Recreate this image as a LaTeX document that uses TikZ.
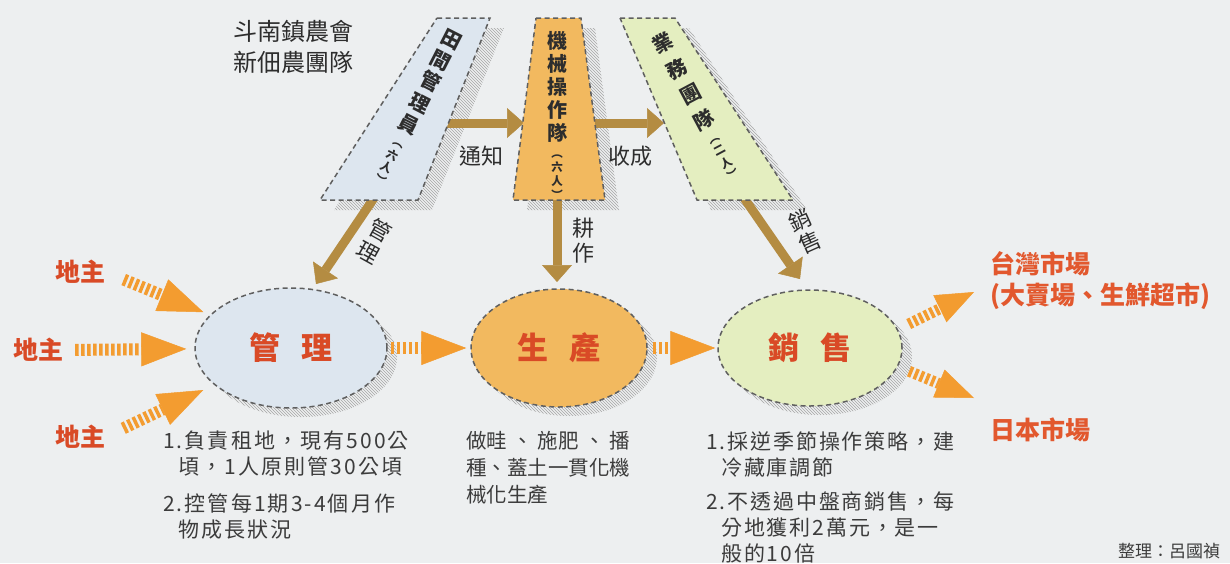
\documentclass[tikz,border=0pt]{standalone}
\usepackage{fontspec}
\setmainfont{Noto Sans CJK TC}
\usetikzlibrary{arrows.meta,shapes.geometric,patterns}
\definecolor{bgc}{RGB}{237,239,240}
\definecolor{bluef}{RGB}{221,230,239}
\definecolor{orangef}{RGB}{242,185,95}
\definecolor{greenf}{RGB}{228,238,192}
\definecolor{brownc}{RGB}{180,140,66}
\definecolor{orangec}{RGB}{243,156,48}
\definecolor{redc}{RGB}{217,74,38}
\definecolor{mktc}{RGB}{226,88,46}
\definecolor{darkc}{RGB}{45,45,45}
\definecolor{notec}{RGB}{60,60,60}
\definecolor{dashc}{RGB}{95,95,95}
\newcommand\smc[1]{{\fontsize{11.5}{11.5}\selectfont #1}}
\tikzset{
  shapedashed/.style={draw=dashc, line width=1.5pt, dash pattern=on 5pt off 3.5pt},
  shadowfill/.style={pattern=north west lines, pattern color=gray!70},
  barrow/.style={draw=brownc, line width=9pt, -{Triangle[length=17pt,width=30pt,line width=0.5pt]}},
  oarrow/.style={draw=orangec, line width=12pt, dash pattern=on 3.5pt off 2.5pt, -{Triangle[length=45pt,width=34pt,line width=0.5pt]}},
  osmall/.style={draw=orangec, line width=11pt, dash pattern=on 3.5pt off 2.5pt, -{Triangle[length=38pt,width=30pt,line width=0.5pt]}},
  stage/.style={ellipse, inner sep=0pt, shapedashed, text=redc, font=\bfseries\fontsize{31}{31}\selectfont},
  owner/.style={inner sep=0pt, text=redc, font=\bfseries\fontsize{25}{25}\selectfont},
  market/.style={inner sep=0pt, text=mktc, align=left, font=\bfseries\fontsize{25}{31}\selectfont},
  notetext/.style={inner sep=0pt, text=notec, align=left},
  vstack/.style={inner sep=0pt, text=darkc, align=center, anchor=north},
  lbl/.style={inner sep=0pt, text=darkc, font=\fontsize{22}{22}\selectfont},
  lblstack/.style={inner sep=0pt, text=darkc, align=center, anchor=north, font=\fontsize{22}{25}\selectfont},
}
\begin{document}
\begin{tikzpicture}[x=1pt,y=1pt]
\fill[bgc] (0,0) rectangle (1230,-563);
\useasboundingbox (0,0) rectangle (1230,-563);

% title
\node[align=center, inner sep=0pt, text=darkc, font=\fontsize{24}{31}\selectfont] (title) at (293,-47) {斗南鎮農會\\新佃農團隊};

% brown arrows (under the boxes)
\coordinate (a1s) at (446,-123); \coordinate (a1e) at (524,-123);
\coordinate (a2s) at (594,-123); \coordinate (a2e) at (664,-123);
\coordinate (a3s) at (374,-198); \coordinate (a3e) at (316,-284);
\coordinate (a4s) at (557,-198); \coordinate (a4e) at (557,-282);
\coordinate (a5s) at (744,-198); \coordinate (a5e) at (800,-279);

% shadows of the boxes
\fill[shadowfill] (451,-28) -- (504,-28) -- (432,-210) -- (334,-210) -- cycle;
\fill[shadowfill] (550,-28) -- (595,-28) -- (619,-210) -- (527,-210) -- cycle;
\fill[shadowfill] (634,-28) -- (689,-28) -- (807,-210) -- (711,-210) -- cycle;

\draw[barrow] (a1s) -- (a1e);
\draw[barrow] (a2s) -- (a2e);
\draw[barrow] (a3s) -- (a3e);
\draw[barrow] (a4s) -- (a4e);
\draw[barrow] (a5s) -- (a5e);

% boxes
\draw[shapedashed, fill=bluef] (437,-18) -- (490,-18) -- (418,-200) -- (320,-200) -- cycle;
\draw[shapedashed, fill=orangef] (536,-18) -- (581,-18) -- (605,-200) -- (513,-200) -- cycle;
\draw[shapedashed, fill=greenf] (620,-18) -- (675,-18) -- (793,-200) -- (697,-200) -- cycle;

% box texts
\node[vstack, rotate=-27, font=\bfseries\fontsize{20}{24}\selectfont] (t1) at (456,-31.5)
  {田\\間\\管\\理\\員\\[-7pt]\smc{︵}\\[-10pt]\smc{六}\\[-10pt]\smc{人}\\[-10pt]\smc{︶}};
\node[vstack, font=\bfseries\fontsize{20}{23}\selectfont] (t2) at (557,-31.5)
  {機\\械\\操\\作\\隊\\[-6pt]\smc{︵}\\[-9pt]\smc{六}\\[-9pt]\smc{人}\\[-9pt]\smc{︶}};
\node[vstack, rotate=28, font=\bfseries\fontsize{20}{29}\selectfont] (t3) at (658.5,-34.6)
  {業\\務\\團\\隊\\[-12pt]\smc{︵}\\[-15pt]\smc{二}\\[-15pt]\smc{人}\\[-15pt]\smc{︶}};

% arrow labels
\node[lbl] (l-tz) at (481,-156) {通知};
\node[lbl] (l-sc) at (630,-156) {收成};
\node[lblstack, rotate=-29] (l-gl) at (385,-221) {管\\理};
\node[lblstack] (l-gz) at (583,-217.6) {耕\\作};
\node[lblstack, rotate=24] (l-xs) at (795.8,-210.5) {銷\\售};

% ellipse shadows
\fill[shadowfill] (301,-357) ellipse [x radius=96pt, y radius=60pt];
\fill[shadowfill] (569,-357) ellipse [x radius=88pt, y radius=59pt];
\fill[shadowfill] (820,-357) ellipse [x radius=92pt, y radius=58pt];

% stages
\node[stage, fill=bluef, minimum width=192pt, minimum height=120pt] (m) at (291,-348) {管\hspace{22pt}理};
\node[stage, fill=orangef, minimum width=176pt, minimum height=118pt] (p) at (559,-348) {生\hspace{22pt}產};
\node[stage, fill=greenf, minimum width=184pt, minimum height=116pt] (s) at (810,-348) {銷\hspace{22pt}售};

% land owners
\node[owner] (l1) at (80,-272) {地主};
\node[owner] (l2) at (38,-350) {地主};
\node[owner] (l3) at (80,-437) {地主};

% markets
\node[market, anchor=west] (tw) at (990,-281) {台灣市場\\(大賣場、生鮮超市)};
\node[market, anchor=west] (jp) at (990,-430) {日本市場};
\coordinate (twtip) at (974,-292);
\coordinate (jptip) at (974,-398);

% orange arrows
\draw[oarrow, shorten <=20pt, shorten >=7pt] (l1.east) -- (m);
\draw[oarrow, shorten <=12pt, shorten >=8pt] (l2.east) -- (m);
\draw[oarrow, shorten <=20pt, shorten >=12pt] (l3.east) -- (m);
\draw[oarrow, shorten <=3pt, shorten >=4pt] (m) -- (p);
\draw[oarrow, shorten <=5pt, shorten >=2pt] (p) -- (s);
\draw[osmall, shorten <=12pt] (s.12) -- (twtip);
\draw[osmall, shorten <=12pt] (s.-12) -- (jptip);

% notes
\node[notetext, anchor=north west, font=\fontsize{21}{26}\selectfont\addfontfeature{LetterSpace=10}] (nm) at (163,-431)
  {1.負責租地，現有500公\\\hspace*{15pt}頃，1人原則管30公頃\\[11pt]2.控管每1期3-4個月作\\\hspace*{15pt}物成長狀況};
\node[notetext, anchor=north west, font=\fontsize{20.5}{27}\selectfont] (np) at (466,-431)
  {\makebox[164pt][s]{做畦 、 施肥 、 播}\\種、蓋土一貫化機\\械化生產};
\node[notetext, anchor=north west, font=\fontsize{21}{26}\selectfont\addfontfeature{LetterSpace=9}] (ns) at (706,-431)
  {1.採逆季節操作策略，建\\\hspace*{15pt}冷藏庫調節\\[8pt]2.不透過中盤商銷售，每\\\hspace*{15pt}分地獲利2萬元，是一\\\hspace*{15pt}般的10倍};
\node[anchor=base west, inner sep=0pt, text=notec, font=\fontsize{17}{17}\selectfont] (credit) at (1118,-557) {整理：呂國禎};
\end{tikzpicture}
\end{document}
